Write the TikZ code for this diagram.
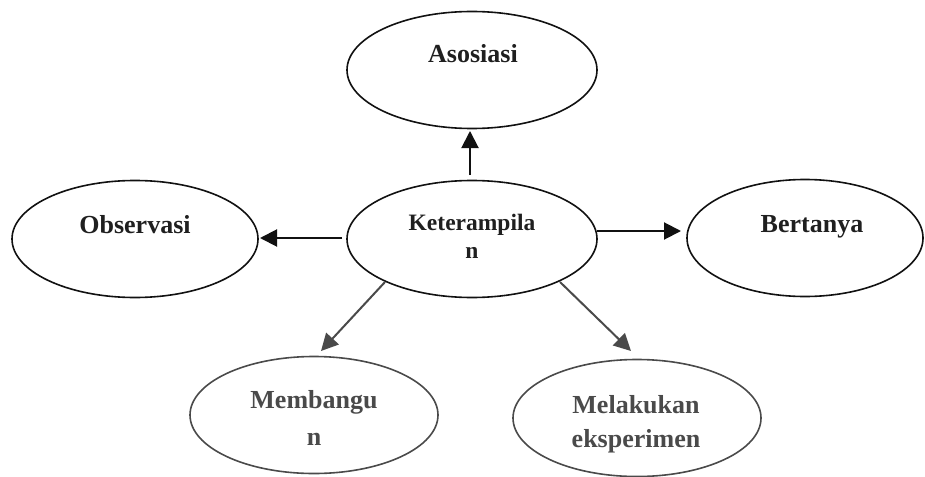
\documentclass[tikz,border=0pt]{standalone}
\usepackage{fontspec}
\setmainfont{Liberation Serif}
\usetikzlibrary{shapes.geometric,arrows.meta}
\definecolor{darkline}{HTML}{111111}
\definecolor{grayline}{HTML}{4A4A4A}
\begin{document}
\begin{tikzpicture}[x=1pt,y=-1pt,
  bub/.style={draw=darkline,line width=1.6pt,ellipse,minimum width=#1,minimum height=117pt,inner sep=0pt},
  bub/.default=250pt,
  gbub/.style={bub=#1,draw=grayline},
  lbl/.style={anchor=base,font=\fontsize{26}{30}\selectfont\bfseries,text=black!88,inner sep=0pt},
  clbl/.style={lbl,font=\fontsize{23.5}{28}\selectfont\bfseries},
  glbl/.style={lbl,text=grayline},
  arr/.style={-{Triangle[length=17pt,width=17pt]},line width=2pt,draw=darkline},
  garr/.style={arr,draw=grayline}]
\useasboundingbox (0,0) rectangle (925,476);
\fill[white] (0,0) rectangle (925,476);
% ellipses
\node[bub=250pt] (aso) at (472,70) {};
\node[bub=246pt] (obs) at (135,239) {};
\node[bub=250pt] (ket) at (472,239) {};
\node[bub=236pt] (ber) at (805,238) {};
\node[gbub=248pt] (mem) at (314,415) {};
\node[gbub=248pt] (mel) at (637,418) {};
% labels
\node[lbl] (asot) at (473,63) {Asosiasi};
\node[lbl] (obst) at (135,233) {Observasi};
\node[clbl] (kett1) at (472,230) {Keterampila};
\node[clbl] (kett2) at (472,258) {n};
\node[lbl] (bert) at (812,232) {Bertanya};
\node[glbl] (memt1) at (314,408) {Membangu};
\node[glbl] (memt2) at (314,445) {n};
\node[glbl] (melt1) at (636,413) {Melakukan};
\node[glbl] (melt2) at (636,447) {eksperimen};
% connectors
\coordinate (a1) at (470,175);
\coordinate (a2) at (470,131);
\draw[arr] (a1) -- (a2);
\coordinate (b1) at (342,238);
\coordinate (b2) at (260,238);
\draw[arr] (b1) -- (b2);
\coordinate (c1) at (597,231);
\coordinate (c2) at (681,231);
\draw[arr] (c1) -- (c2);
\coordinate (d1) at (385,282);
\coordinate (d2) at (321,351);
\draw[garr] (d1) -- (d2);
\coordinate (e1) at (560,282);
\coordinate (e2) at (631,351);
\draw[garr] (e1) -- (e2);
\end{tikzpicture}
\end{document}
